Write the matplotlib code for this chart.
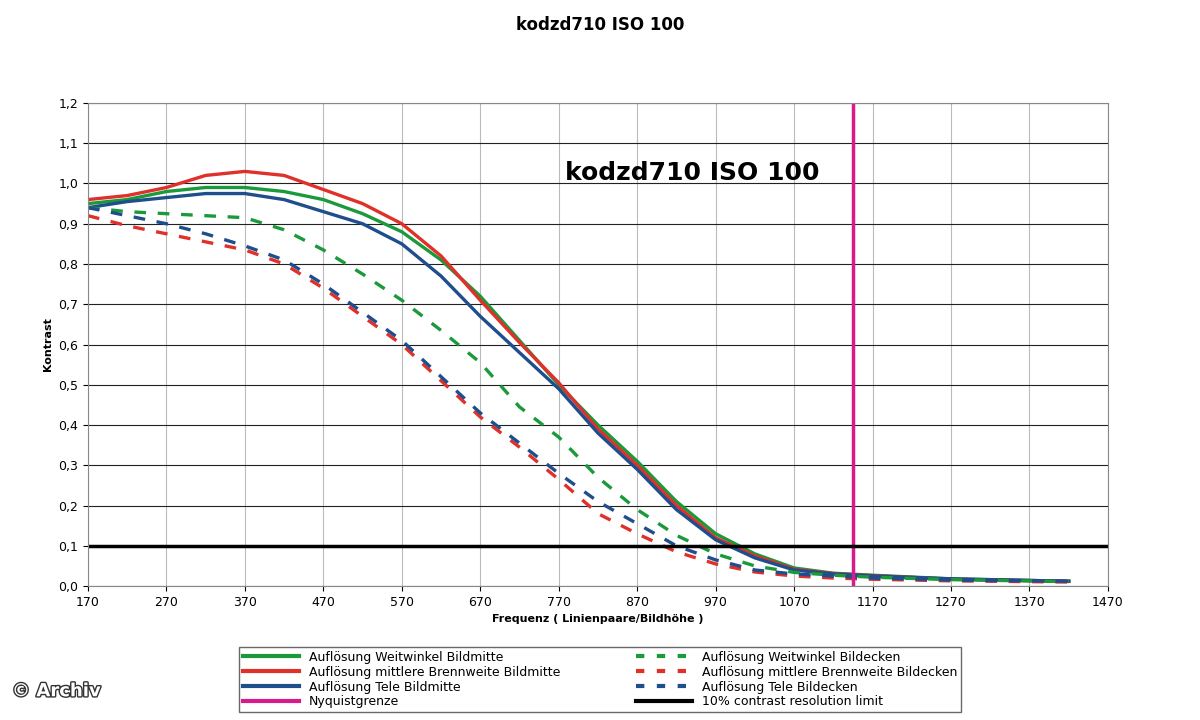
import matplotlib
matplotlib.use("Agg")
import matplotlib.pyplot as plt
import matplotlib.patheffects as pe
from matplotlib.lines import Line2D

x = [170,220,270,320,370,420,470,520,570,620,670,720,770,820,870,920,970,1020,1070,1120,1170,1270,1420]
ww_mitte = [0.95,0.96,0.98,0.99,0.99,0.98,0.96,0.925,0.88,0.81,0.72,0.61,0.50,0.40,0.31,0.21,0.13,0.08,0.045,0.032,0.027,0.018,0.012]
mb_mitte = [0.96,0.97,0.99,1.02,1.03,1.02,0.985,0.95,0.90,0.82,0.71,0.605,0.505,0.39,0.30,0.20,0.12,0.075,0.042,0.031,0.026,0.017,0.012]
tele_mitte = [0.94,0.955,0.965,0.975,0.975,0.96,0.93,0.90,0.85,0.77,0.67,0.58,0.49,0.38,0.29,0.19,0.115,0.07,0.04,0.03,0.025,0.018,0.012]
ww_ecken = [0.94,0.93,0.925,0.92,0.915,0.885,0.835,0.775,0.71,0.635,0.555,0.445,0.37,0.27,0.19,0.126,0.08,0.05,0.034,0.027,0.022,0.016,0.011]
mb_ecken = [0.92,0.895,0.875,0.855,0.835,0.80,0.74,0.67,0.60,0.51,0.42,0.345,0.265,0.18,0.13,0.085,0.055,0.035,0.025,0.02,0.017,0.013,0.01]
tele_ecken = [0.94,0.92,0.90,0.875,0.845,0.81,0.75,0.68,0.61,0.52,0.43,0.355,0.28,0.21,0.155,0.10,0.065,0.04,0.03,0.025,0.02,0.015,0.012]
nyquist = 1145
limit = 0.1

green, red, blue, pink = "#1a9a3a", "#e0302a", "#1f4e8c", "#d81b8c"

fig = plt.figure(figsize=(12, 7.2), dpi=100)
ax = fig.add_axes([0.0733, 0.186, 0.85, 0.671])
ax.set_facecolor("white")
lw = 2.4
dsh = (3.5, 3.5)
ax.plot(x, ww_mitte, color=green, lw=lw)
ax.plot(x, mb_mitte, color=red, lw=lw)
ax.plot(x, tele_mitte, color=blue, lw=lw)
ax.plot(x, ww_ecken, color=green, lw=lw, dashes=dsh)
ax.plot(x, mb_ecken, color=red, lw=lw, dashes=dsh)
ax.plot(x, tele_ecken, color=blue, lw=lw, dashes=dsh)
ax.axvline(nyquist, color=pink, lw=2.5)
ax.axhline(limit, color="black", lw=2.5)
ax.set_xlim(170, 1470)
ax.set_ylim(0, 1.2)
ax.set_xticks(range(170, 1471, 100))
ax.set_yticks([i/10 for i in range(13)])
ax.set_yticklabels([f"{i/10:.1f}".replace(".", ",") for i in range(13)])
ax.tick_params(labelsize=9)
ax.grid(True, axis="y", color="#222222", lw=0.8)
ax.grid(True, axis="x", color="#bbbbbb", lw=0.8)
ax.set_axisbelow(True)
for s in ax.spines.values():
    s.set_color("#888888")
ax.set_xlabel("Frequenz ( Linienpaare/Bildhöhe )", fontsize=8, fontweight="bold")
ax.set_ylabel("Kontrast", fontsize=8, fontweight="bold")
ax.text(778, 1.027, "kodzd710 ISO 100", fontsize=18, fontweight="bold", ha="left", va="center")
fig.text(0.5, 0.965, "kodzd710 ISO 100", ha="center", va="center", fontsize=12, fontweight="bold")

handles = [
    Line2D([], [], color=green, lw=3), Line2D([], [], color=red, lw=3),
    Line2D([], [], color=blue, lw=3), Line2D([], [], color=pink, lw=3),
    Line2D([], [], color=green, lw=3, dashes=(2, 3)), Line2D([], [], color=red, lw=3, dashes=(2, 3)),
    Line2D([], [], color=blue, lw=3, dashes=(2, 3)), Line2D([], [], color="black", lw=3),
]
labels = ["Auflösung Weitwinkel Bildmitte", "Auflösung mittlere Brennweite Bildmitte",
          "Auflösung Tele Bildmitte", "Nyquistgrenze",
          "Auflösung Weitwinkel Bildecken", "Auflösung mittlere Brennweite Bildecken",
          "Auflösung Tele Bildecken", "10% contrast resolution limit"]
fig.legend(handles, labels, ncol=2, loc="upper center", bbox_to_anchor=(0.5, 0.11),
           fontsize=9, frameon=True, fancybox=False, edgecolor="#444444",
           handlelength=4.5, columnspacing=6, labelspacing=0.15, borderpad=0.3)
fig.text(0.01, 0.033, "© Archiv", fontsize=13, color="white", fontweight="bold",
         path_effects=[pe.withStroke(linewidth=2, foreground="#333333")])
fig.savefig("out.png", dpi=100, facecolor="white")
